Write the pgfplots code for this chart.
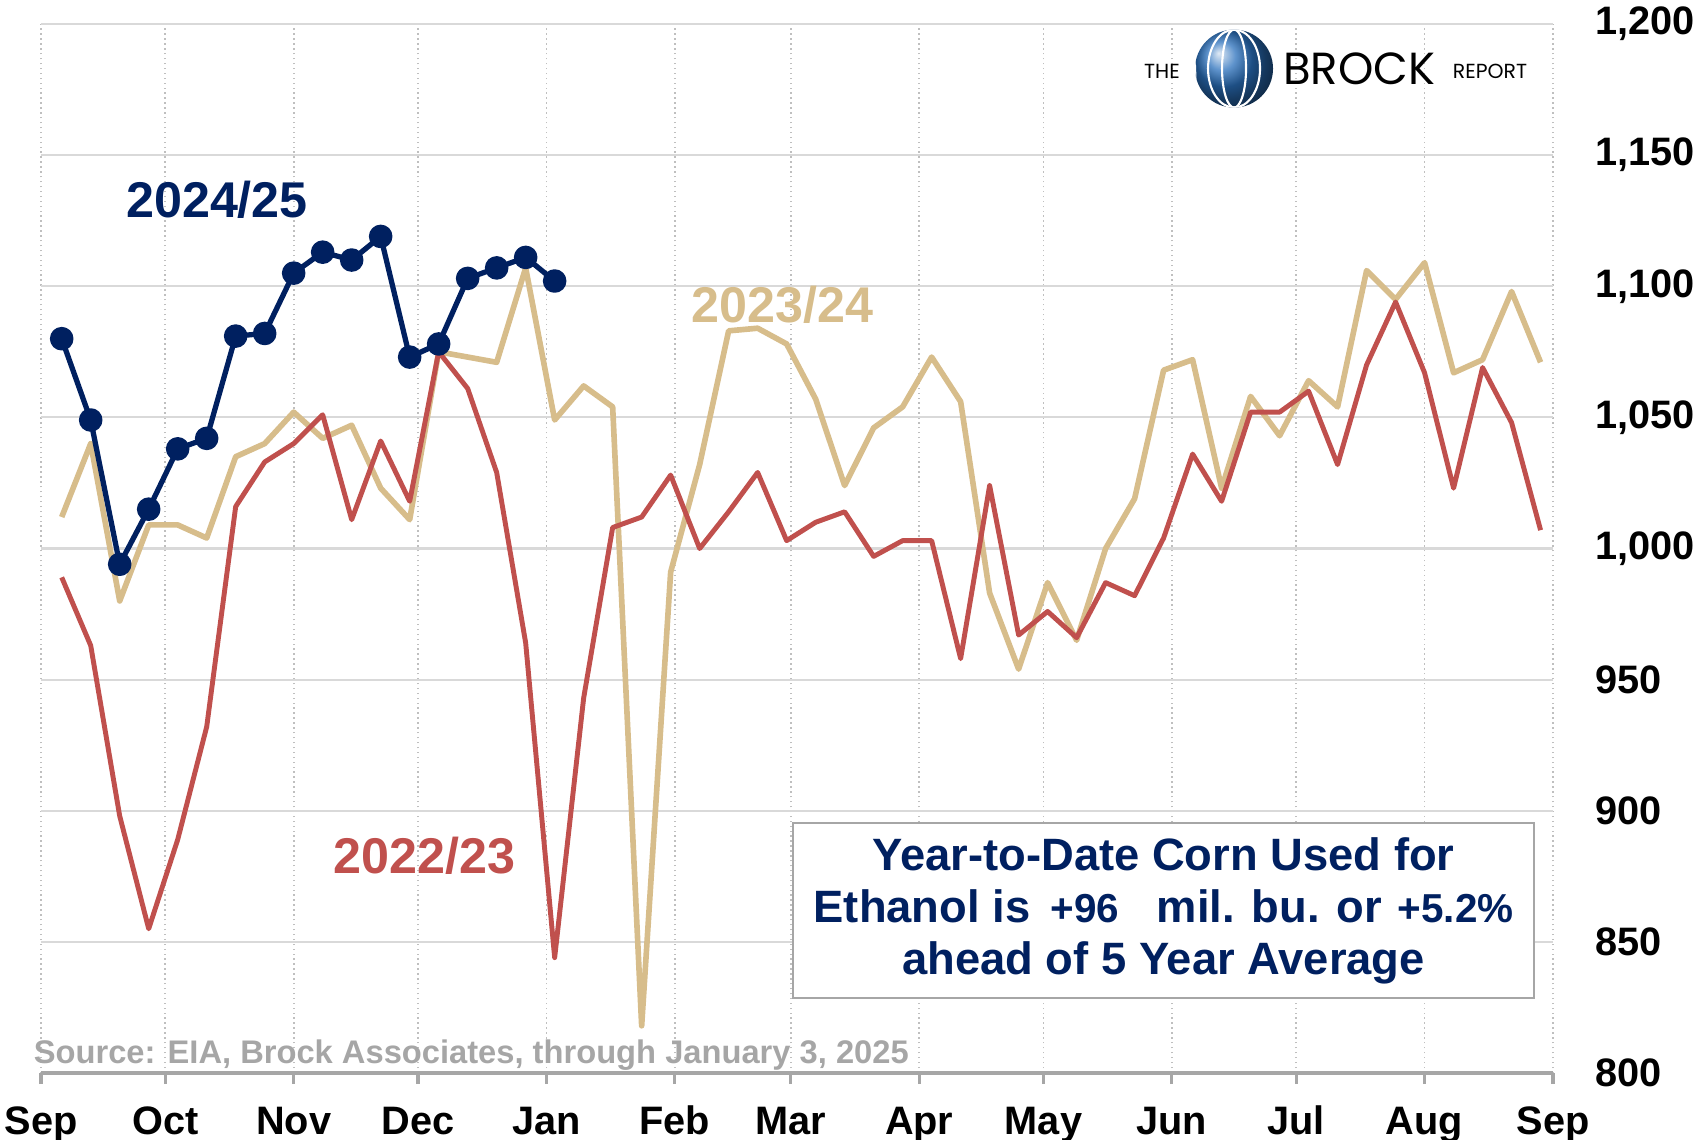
\documentclass[border=0pt]{standalone}
\usepackage{fontspec}
\setmainfont{Liberation Sans}
\newfontfamily\logofont{Poppins}
\usepackage{pgfplots}
\pgfplotsset{compat=1.18}
\usepackage{pgfplotstable}

\definecolor{navy}{HTML}{002060}
\definecolor{tan}{HTML}{D7BD8B}
\definecolor{brick}{HTML}{C0504D}
\definecolor{srcgray}{HTML}{A6A6A6}
\definecolor{axisgray}{HTML}{A6A6A6}
\definecolor{hgrid}{HTML}{D9D9D9}
\definecolor{vgrid}{HTML}{BFBFBF}
\definecolor{globeblue}{HTML}{2A70BC}

% x = days after Sep 1, weekly reports
\pgfplotstableread{
x y
5 1012
12 1040
19 980
26 1009
33 1009
40 1004
47 1035
54 1040
61 1052
68 1042
75 1047
82 1023
89 1011
96 1075
103 1073
110 1071
117 1107
124 1049
131 1062
138 1054
145 818
152 991
159 1032
166 1083
173 1084
180 1078
187 1057
194 1024
201 1046
208 1054
215 1073
222 1056
229 983
236 954
243 987
250 965
257 1000
264 1019
271 1068
278 1072
285 1023
292 1058
299 1043
306 1064
313 1054
320 1106
327 1095
334 1109
341 1067
348 1072
355 1098
362 1071
}\tantable

\pgfplotstableread{
x y
5 989
12 963
19 898
26 855
33 889
40 932
47 1016
54 1033
61 1040
68 1051
75 1011
82 1041
89 1018
96 1075
103 1061
110 1029
117 964
124 844
131 943
138 1008
145 1012
152 1028
159 1000
166 1014
173 1029
180 1003
187 1010
194 1014
201 997
208 1003
215 1003
222 958
229 1024
236 967
243 976
250 966
257 987
264 982
271 1004
278 1036
285 1018
292 1052
299 1052
306 1060
313 1032
320 1070
327 1094
334 1067
341 1023
348 1069
355 1048
362 1007
}\redtable

\pgfplotstableread{
x y
5 1080
12 1049
19 994
26 1015
33 1038
40 1042
47 1081
54 1082
61 1105
68 1113
75 1110
82 1119
89 1073
96 1078
103 1103
110 1107
117 1111
124 1102
}\navytable

\begin{document}
\begin{tikzpicture}
\begin{axis}[
    at={(0.41cm,0.66cm)}, anchor=south west,
    scale only axis,
    width=15.12cm, height=10.49cm,
    xmin=0, xmax=365, ymin=800, ymax=1200,
    axis x line*=bottom, axis y line*=right,
    y axis line style={draw=none},
    x axis line style={draw=axisgray, line width=0.9pt},
    xtick={0,30,61,91,122,153,181,212,242,273,303,334,365},
    xticklabels={Sep,Oct,Nov,Dec,Jan,Feb,Mar,Apr,May,Jun,Jul,Aug,Sep},
    ytick={800,850,900,950,1000,1050,1100,1150,1200},
    tick align=outside,
    major tick length=0.11cm,
    x tick style={draw=axisgray, line width=0.9pt},
    y tick style={draw=none},
    grid=major,
    x grid style={densely dotted, vgrid, line width=0.5pt},
    y grid style={solid, hgrid, line width=0.6pt},
    tick label style={font=\fontsize{11.3}{12}\selectfont\bfseries, text=black},
    yticklabel style={anchor=west, xshift=0.19cm},
    xticklabel style={text height=8.3pt, text depth=2.4pt, yshift=-0.09cm},
    /pgf/number format/1000 sep={,},
    /pgf/number format/assume math mode=true,
    clip=false,
]
\addplot[tan, line width=1.6pt, line join=round] table {\tantable};
\addplot[brick, line width=1.4pt, line join=round] table {\redtable};
\addplot[navy, line width=1.5pt, line join=round, mark=*, mark size=2.6pt] table {\navytable};

% series labels
\node[text=navy, font=\fontsize{14.3}{16}\selectfont\bfseries] at (axis cs:42.5,1133) {2024/25};
\node[text=tan, font=\fontsize{14.3}{16}\selectfont\bfseries] at (axis cs:179,1093) {2023/24};
\node[text=brick, font=\fontsize{14.3}{16}\selectfont\bfseries] at (axis cs:92.5,883) {2022/23};

% source
\node[anchor=west, inner sep=0pt, text=srcgray, font=\fontsize{9.3}{11}\selectfont\bfseries] at (axis cs:-1.9,807) {Source: EIA, Brock Associates, through January 3, 2025};

% text box
\node[draw=axisgray, line width=0.6pt, fill=white, minimum width=7.41cm, minimum height=1.75cm,
      align=center, text=navy, font=\fontsize{12.9}{14.8}\selectfont\bfseries, inner sep=2pt]
  at (axis cs:271,862)
  {Year-to-Date Corn Used for\\
   Ethanol is\hspace{0.45em}{\fontsize{11.5}{14.8}\selectfont +96}\hspace{0.55em} mil. bu. or\hspace{0.35em}{\fontsize{11.5}{14.8}\selectfont +5.2\%}\\
   ahead of 5 Year Average};

% logo
\node[font=\logofont\fontsize{5.8}{7}\selectfont] at (axis cs:270.6,1182) {THE};
\node[font=\logofont\fontsize{12.8}{14}\selectfont] at (axis cs:318.2,1183) {BROCK};
\node[font=\logofont\fontsize{5.8}{7}\selectfont] at (axis cs:349.8,1182) {REPORT};
\shade[ball color=globeblue] (axis cs:288,1183) circle[radius=0.39cm];
\begin{scope}
  \clip (axis cs:288,1183) circle[radius=0.39cm];
  \draw[white, line width=0.6pt] (axis cs:288,1183) ellipse[x radius=0.12cm, y radius=0.39cm];
  \draw[white, line width=0.6pt] (axis cs:288,1183) ellipse[x radius=0.26cm, y radius=0.39cm];
  \draw[white, line width=0.6pt] (axis cs:288,1183) ++(-0.4cm,0.13cm) -- ++(0.8cm,0);
  \draw[white, line width=0.6pt] (axis cs:288,1183) ++(-0.4cm,-0.13cm) -- ++(0.8cm,0);
  \draw[white, line width=0.6pt] (axis cs:288,1183) ++(-0.4cm,0.27cm) -- ++(0.8cm,0);
  \draw[white, line width=0.6pt] (axis cs:288,1183) ++(-0.4cm,-0.27cm) -- ++(0.8cm,0);
  \draw[white, line width=0.6pt] (axis cs:288,1183) ++(0,-0.4cm) -- ++(0,0.8cm);
\end{scope}
\end{axis}
\pgfresetboundingbox
\useasboundingbox (0,0) rectangle (17.05cm,11.39cm);
\end{tikzpicture}
\end{document}
